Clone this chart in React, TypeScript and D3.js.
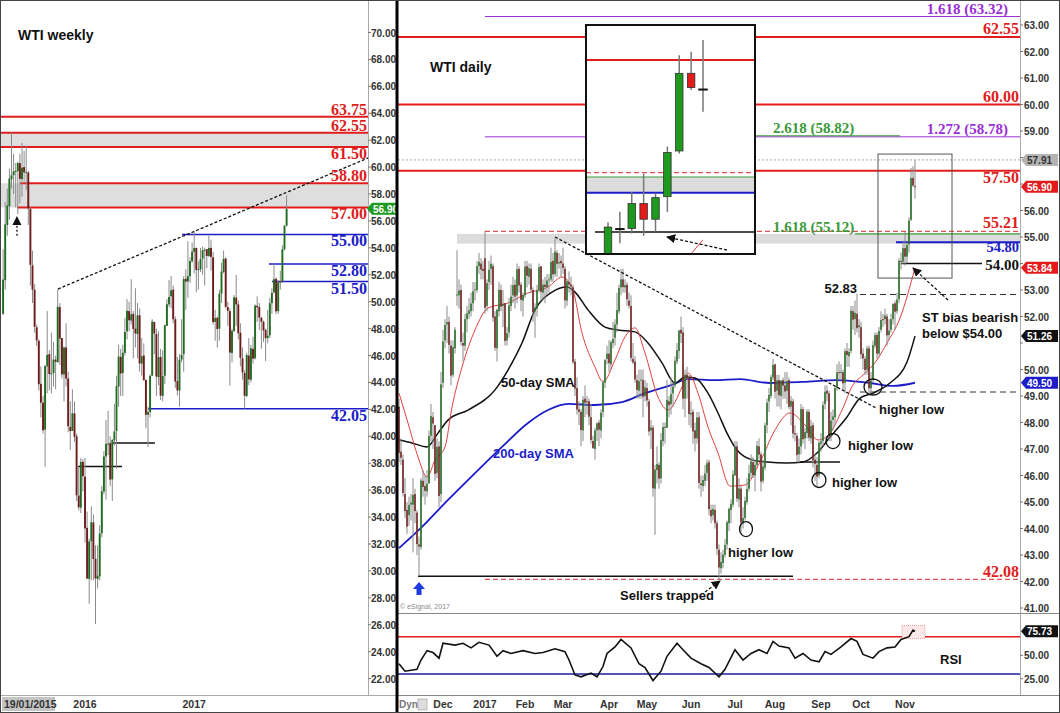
import React from 'react';
import * as d3 from 'd3';

type Bar = [number, number, number, number]; // open, high, low, close

// ---------------- WEEKLY (from week of 06/04/2015) ----------------
const w2015: Bar[] = [
  [49.1, 53.9, 49.0, 51.64], [51.6, 57.4, 50.9, 55.74], [55.7, 58.4, 54.9, 57.15], [57.1, 59.9, 56.1, 59.15],
  [59.1, 62.58, 58.4, 59.39], [59.4, 61.0, 58.0, 59.69], [59.7, 60.3, 57.0, 59.72], [59.7, 60.4, 56.5, 60.3],
  [60.3, 61.0, 57.3, 59.13], [59.1, 61.8, 57.8, 59.96], [60.0, 61.2, 58.9, 59.61], [59.6, 61.6, 58.3, 59.63],
  [59.6, 59.7, 55.7, 56.93], [56.9, 57.0, 51.2, 52.74], [52.7, 53.8, 49.9, 50.89], [50.9, 51.3, 47.7, 48.14],
  [48.1, 48.3, 46.7, 47.12], [47.1, 47.2, 43.4, 43.87], [43.9, 45.2, 41.4, 42.5], [42.5, 43.0, 40.2, 40.45],
  [40.5, 45.3, 37.75, 45.22], [45.2, 49.3, 43.2, 46.05], [46.1, 46.4, 43.4, 44.63], [44.6, 47.7, 43.2, 44.68],
  [44.7, 47.0, 43.7, 45.7], [45.7, 46.0, 43.5, 45.54], [45.5, 50.9, 45.5, 49.63], [49.6, 49.9, 45.3, 47.26],
  [47.3, 47.3, 44.3, 44.6], [44.6, 46.7, 42.6, 46.59], [46.6, 48.4, 43.7, 44.29], [44.3, 44.8, 40.3, 40.74],
  [40.7, 42.6, 38.99, 40.39], [40.4, 43.5, 40.4, 41.71], [41.7, 42.6, 39.6, 39.97], [40.0, 40.2, 35.2, 35.62],
  [35.6, 37.7, 34.5, 34.73], [34.7, 38.4, 34.3, 38.1], [38.1, 38.3, 35.9, 37.04],
];
const w2016: Bar[] = [
  [37.0, 38.4, 32.1, 33.16], [33.2, 34.4, 29.9, 29.42], [29.4, 32.4, 27.56, 32.19], [32.2, 34.8, 29.3, 33.62],
  [33.6, 34.2, 29.3, 30.89], [30.9, 31.9, 26.05, 29.44], [29.4, 31.9, 28.7, 29.64], [29.6, 33.4, 29.3, 32.78],
  [32.8, 36.3, 32.5, 35.92], [35.9, 38.9, 35.7, 38.5], [38.5, 41.2, 35.3, 39.44], [39.4, 41.9, 38.6, 39.46],
  [39.5, 40.0, 36.3, 36.79], [36.8, 39.8, 35.2, 39.72], [39.7, 42.4, 39.3, 40.36], [40.4, 44.5, 37.6, 43.73],
  [43.7, 46.8, 42.2, 45.92], [45.9, 46.5, 43.0, 44.66], [44.7, 46.8, 43.0, 46.21], [46.2, 48.8, 46.0, 47.75],
  [47.8, 50.2, 47.2, 49.33], [49.3, 50.0, 47.8, 48.62], [48.6, 51.67, 48.3, 49.07], [49.1, 49.3, 45.8, 47.98],
  [48.0, 51.0, 46.6, 47.64], [47.6, 49.9, 45.8, 48.99], [49.0, 49.5, 44.8, 45.41], [45.4, 47.3, 44.5, 45.95],
  [46.0, 46.9, 44.1, 44.19], [44.2, 44.2, 40.6, 41.6], [41.6, 42.2, 39.19, 41.8], [41.8, 44.6, 41.4, 44.49],
  [44.5, 48.7, 44.5, 48.52], [48.5, 48.5, 46.1, 47.64], [47.6, 48.0, 43.0, 44.44], [44.4, 47.8, 43.8, 45.88],
  [45.9, 46.5, 42.7, 43.03], [43.0, 46.4, 42.6, 44.48], [44.5, 48.3, 43.9, 48.24], [48.2, 50.2, 48.2, 49.81],
  [49.8, 51.6, 49.6, 50.35], [50.4, 51.9, 49.5, 50.85], [50.9, 51.2, 48.4, 48.7], [48.7, 48.9, 43.6, 44.07],
  [44.1, 45.9, 43.03, 43.41], [43.4, 46.1, 42.2, 45.69], [45.7, 48.7, 45.5, 46.06], [46.1, 51.9, 44.8, 51.68],
  [51.7, 52.4, 49.4, 51.5], [51.5, 54.5, 50.3, 51.9], [51.9, 53.3, 51.4, 53.02], [53.0, 54.4, 52.9, 53.72],
];
const w2017: Bar[] = [
  [53.7, 55.24, 52.1, 53.99], [54.0, 54.0, 50.7, 52.37], [52.4, 53.0, 50.9, 52.42], [52.4, 54.0, 52.2, 53.17],
  [53.2, 54.1, 52.0, 53.83], [53.8, 54.0, 51.2, 53.86], [53.9, 53.9, 52.5, 53.4], [53.4, 54.9, 53.3, 53.99],
  [54.0, 54.6, 52.3, 53.33], [53.3, 53.7, 48.3, 48.49], [48.5, 49.4, 47.1, 48.78], [48.8, 48.9, 46.6, 47.97],
  [48.0, 50.9, 47.1, 50.6], [50.6, 52.9, 49.9, 52.24], [52.2, 53.8, 52.1, 53.18], [53.2, 53.3, 49.5, 49.62],
  [49.6, 50.0, 48.2, 49.33], [49.3, 49.5, 43.76, 46.22], [46.2, 48.0, 45.5, 47.84], [47.8, 50.5, 47.8, 50.33],
  [50.3, 52.0, 48.2, 49.8], [49.8, 50.1, 47.2, 47.66], [47.7, 48.4, 45.2, 45.83], [45.8, 46.6, 44.2, 44.74],
  [44.7, 44.9, 42.05, 43.01], [43.0, 46.2, 42.9, 46.04], [46.0, 47.3, 43.8, 44.23], [44.2, 46.8, 44.0, 46.54],
  [46.5, 47.4, 45.4, 45.77], [45.8, 49.8, 45.7, 49.71], [49.7, 50.4, 48.5, 49.58], [49.6, 49.9, 47.9, 48.82],
  [48.8, 48.9, 46.5, 48.51], [48.5, 48.6, 47.0, 47.87], [47.9, 48.0, 45.6, 47.29], [47.3, 49.4, 46.9, 47.48],
  [47.5, 50.3, 47.3, 49.89], [49.9, 51.0, 49.1, 50.66], [50.7, 52.86, 50.6, 51.67], [51.7, 51.8, 49.1, 49.29],
  [49.3, 51.6, 49.1, 51.45], [51.5, 52.3, 50.9, 51.47], [51.5, 54.2, 51.4, 53.9], [53.9, 55.7, 53.8, 55.64],
  [55.65, 57.91, 55.6, 56.9],
];
const weeklyYearLabels = ['19/01/2015', '2016', '2017'];
const weeklyTicks = d3.range(22, 71, 2);
const weeklyRedLevels = [63.75, 62.55, 61.5, 58.8, 57.0];
const weeklyBlueLevels = [55.0, 52.8, 51.5, 42.05];
const weeklyZones: [number, number][] = [[62.55, 61.5], [58.8, 57.0]];

// ---------------- DAILY (31/10/2016 - 08/11/2017) ----------------
const dOct16: Bar[] = [[48.6, 48.9, 46.5, 46.86]];
const dNov16: Bar[] = [
  [46.9, 47.4, 46.4, 46.67], [46.6, 46.8, 45.2, 45.34], [45.3, 45.9, 44.4, 44.66], [44.7, 45.0, 43.8, 44.07],
  [44.5, 45.2, 44.1, 44.89], [44.9, 45.3, 44.3, 44.98], [44.9, 45.9, 43.1, 45.27], [45.3, 45.5, 44.2, 44.66],
  [44.6, 44.7, 43.0, 43.41], [43.4, 43.7, 42.2, 43.32], [43.3, 45.9, 43.2, 45.81], [45.8, 46.2, 45.2, 45.57],
  [45.6, 46.0, 44.9, 45.42], [45.4, 46.2, 45.2, 45.69], [45.7, 47.7, 45.7, 47.49], [47.5, 48.7, 47.3, 48.24],
  [48.2, 48.4, 47.0, 47.96], [47.9, 47.9, 45.8, 46.06], [46.1, 47.4, 45.9, 47.08], [47.1, 47.3, 44.8, 45.23],
  [45.3, 49.9, 45.0, 49.44],
];
const dDec16: Bar[] = [
  [49.5, 51.5, 49.3, 51.06], [51.1, 51.9, 50.8, 51.68], [51.7, 52.4, 51.0, 51.79], [51.8, 52.0, 50.6, 50.93],
  [50.9, 51.1, 49.4, 49.77], [49.8, 51.1, 49.7, 50.84], [50.8, 51.6, 50.6, 51.5], [52.8, 54.5, 52.4, 52.83],
  [52.8, 53.4, 52.3, 52.98], [53.0, 53.2, 50.9, 51.04], [51.0, 51.4, 50.3, 50.9], [50.9, 52.1, 50.7, 51.9],
  [51.9, 52.4, 51.4, 52.12], [52.1, 52.7, 51.9, 52.23], [52.2, 52.9, 52.0, 52.49], [52.5, 53.3, 52.2, 52.95],
  [53.0, 53.3, 52.6, 53.02], [53.0, 54.1, 52.9, 53.9], [53.9, 54.4, 53.6, 54.06], [54.0, 54.2, 53.4, 53.77],
  [53.8, 54.1, 53.4, 53.72],
];
const dJan17: Bar[] = [
  [54.2, 55.24, 52.1, 52.33], [52.4, 53.4, 52.2, 53.26], [53.3, 54.1, 53.0, 53.76], [53.8, 54.3, 53.2, 53.99],
  [53.9, 54.0, 51.8, 51.96], [52.0, 52.2, 50.7, 50.82], [50.8, 52.3, 50.3, 52.25], [52.2, 53.3, 52.0, 53.01],
  [53.0, 53.2, 52.2, 52.37], [52.4, 53.0, 51.6, 52.48], [52.5, 52.5, 50.9, 51.08], [51.1, 51.6, 50.9, 51.37],
  [51.4, 52.7, 51.2, 52.42], [52.4, 53.2, 52.2, 52.75], [52.8, 53.5, 52.5, 53.18], [53.2, 53.4, 52.3, 52.75],
  [52.8, 54.0, 52.5, 53.78], [53.8, 53.9, 52.9, 53.17], [53.2, 53.3, 52.2, 52.63], [52.6, 52.9, 52.0, 52.81],
];
const dFeb17: Bar[] = [
  [52.8, 54.1, 52.7, 53.88], [53.9, 54.1, 53.1, 53.54], [53.5, 54.0, 53.2, 53.83], [53.8, 54.0, 52.9, 53.01],
  [53.0, 53.1, 51.8, 52.17], [52.2, 52.5, 51.2, 52.34], [52.3, 53.2, 52.0, 53.0], [53.0, 54.0, 52.9, 53.86],
  [53.9, 53.9, 52.6, 52.93], [52.9, 53.4, 52.6, 53.2], [53.2, 53.5, 52.5, 53.11], [53.1, 53.6, 52.8, 53.36],
  [53.4, 53.6, 52.9, 53.4], [53.4, 54.6, 53.3, 54.06], [54.1, 54.4, 53.3, 53.59], [53.6, 54.94, 53.5, 54.45],
  [54.4, 54.5, 53.5, 53.99], [54.0, 54.4, 53.8, 54.05], [54.1, 54.3, 53.5, 54.01],
];
const dMar17: Bar[] = [
  [54.0, 54.6, 53.6, 53.83], [53.8, 53.9, 52.3, 52.61], [52.6, 53.4, 52.4, 53.33], [53.3, 53.7, 52.9, 53.2],
  [53.2, 53.5, 52.8, 53.14], [53.1, 53.2, 50.2, 50.28], [50.3, 50.4, 49.0, 49.28], [49.3, 49.7, 48.3, 48.49],
  [48.5, 48.8, 47.9, 48.4], [48.4, 48.5, 47.1, 47.72], [47.7, 49.0, 47.3, 48.86], [48.9, 49.4, 48.2, 48.75],
  [48.8, 49.0, 48.3, 48.78], [48.8, 48.9, 47.9, 48.22], [48.2, 48.7, 47.2, 47.34], [47.3, 47.5, 47.0, 47.04],
  [47.0, 47.8, 46.6, 47.7], [47.7, 48.0, 47.3, 47.97], [48.0, 48.1, 47.1, 47.73], [47.7, 48.5, 47.4, 48.37],
  [48.4, 49.6, 48.2, 49.51], [49.5, 50.4, 49.3, 50.35], [50.4, 50.9, 50.2, 50.6],
];
const dApr17: Bar[] = [
  [50.6, 51.1, 49.9, 50.24], [50.2, 51.1, 50.0, 51.03], [51.0, 51.8, 50.8, 51.15], [51.2, 51.9, 50.9, 51.7],
  [51.7, 52.9, 51.4, 52.24], [52.2, 53.2, 52.1, 53.08], [53.1, 53.8, 52.8, 53.4], [53.4, 53.8, 52.9, 53.11],
  [53.1, 53.4, 52.9, 53.18], [53.2, 53.3, 52.4, 52.65], [52.6, 52.9, 52.3, 52.41], [52.4, 52.8, 50.3, 50.44],
  [50.4, 51.0, 50.2, 50.27], [50.3, 50.5, 49.5, 49.62], [49.6, 49.8, 48.9, 49.23], [49.2, 50.0, 48.9, 49.56],
  [49.6, 50.0, 48.9, 49.62], [49.6, 50.0, 48.2, 48.97], [49.0, 49.6, 48.8, 49.33],
];
const dMay17: Bar[] = [
  [49.3, 49.5, 48.6, 48.84], [48.8, 48.9, 47.5, 47.66], [47.7, 48.1, 47.0, 47.82], [47.8, 47.9, 45.2, 45.52],
  [45.5, 46.4, 43.76, 46.22], [46.2, 47.1, 45.7, 46.43], [46.4, 46.5, 45.5, 45.88], [45.9, 47.6, 45.7, 47.33],
  [47.3, 48.0, 47.1, 47.83], [47.8, 48.0, 47.2, 47.84], [47.8, 49.6, 47.8, 48.85], [48.8, 49.0, 48.2, 48.66],
  [48.7, 49.7, 48.3, 49.07], [49.1, 49.5, 48.6, 49.35], [49.4, 50.5, 49.3, 50.33], [50.3, 51.0, 50.2, 50.73],
  [50.7, 51.5, 50.4, 51.47], [51.5, 52.0, 51.0, 51.36], [51.4, 51.6, 48.5, 48.9], [48.9, 50.0, 48.2, 49.8],
  [49.8, 50.1, 48.9, 49.66], [49.7, 49.8, 47.9, 48.32],
];
const dJun17: Bar[] = [
  [48.3, 48.8, 47.8, 48.36], [48.4, 48.5, 47.2, 47.66], [47.7, 48.0, 46.9, 47.4], [47.4, 48.4, 47.2, 48.19],
  [48.2, 48.4, 45.5, 45.72], [45.7, 46.0, 45.2, 45.64], [45.6, 46.0, 45.4, 45.83], [45.8, 46.4, 45.6, 46.08],
  [46.1, 46.6, 45.8, 46.46], [46.5, 46.6, 44.5, 44.73], [44.7, 44.9, 44.2, 44.46], [44.5, 44.9, 44.3, 44.74],
  [44.7, 44.9, 44.0, 44.2], [44.2, 44.3, 43.0, 43.23], [43.2, 43.4, 42.05, 42.53], [42.5, 43.1, 42.3, 42.74],
  [42.7, 43.2, 42.5, 43.01], [43.0, 43.6, 42.9, 43.38], [43.4, 44.3, 43.2, 44.24], [44.2, 44.8, 43.9, 44.74],
  [44.7, 45.1, 44.2, 44.93], [44.9, 46.2, 44.8, 46.04],
];
const dJul17: Bar[] = [
  [46.0, 47.3, 46.0, 47.07], [47.1, 47.3, 45.0, 45.13], [45.1, 45.9, 44.8, 45.52], [45.5, 45.6, 43.8, 44.23],
  [44.2, 44.8, 44.0, 44.4], [44.4, 45.2, 44.3, 45.04], [45.0, 45.9, 44.9, 45.49], [45.5, 46.4, 45.4, 46.08],
  [46.1, 46.8, 45.9, 46.54], [46.5, 46.7, 45.9, 46.02], [46.0, 46.6, 45.4, 46.4], [46.4, 47.3, 46.3, 47.12],
  [47.1, 47.4, 46.6, 46.79], [46.8, 46.9, 45.4, 45.77], [45.8, 46.6, 45.7, 46.34], [46.3, 48.0, 46.2, 47.89],
  [47.9, 48.9, 47.6, 48.75], [48.8, 49.3, 48.4, 49.04], [49.0, 49.8, 48.9, 49.71], [49.7, 50.4, 49.6, 50.17],
];
const dAug17: Bar[] = [
  [50.2, 50.2, 48.9, 49.16], [49.2, 49.8, 48.6, 49.59], [49.6, 49.8, 48.6, 49.03], [49.0, 49.6, 48.5, 49.58],
  [49.6, 49.7, 48.9, 49.39], [49.4, 49.9, 48.9, 49.17], [49.2, 49.9, 48.7, 49.56], [49.6, 49.7, 48.5, 48.59],
  [48.6, 49.0, 47.9, 48.82], [48.8, 48.9, 47.4, 47.59], [47.6, 47.9, 47.3, 47.55], [47.5, 47.6, 46.5, 46.78],
  [46.8, 47.4, 46.5, 47.09], [47.1, 48.7, 46.8, 48.51], [48.5, 48.6, 47.2, 47.37], [47.4, 47.8, 47.0, 47.64],
  [47.6, 48.5, 47.4, 48.41], [48.4, 48.5, 47.3, 47.43], [47.4, 48.1, 47.2, 47.87], [47.9, 48.0, 46.3, 46.57],
  [46.6, 46.8, 45.8, 46.44], [46.4, 46.7, 45.6, 45.96], [46.0, 47.3, 45.9, 47.23],
];
const dSep17: Bar[] = [
  [47.2, 47.6, 46.9, 47.29], [47.3, 48.8, 47.1, 48.66], [48.7, 49.4, 48.5, 49.16], [49.2, 49.4, 48.8, 49.09],
  [49.1, 49.2, 47.3, 47.48], [47.5, 48.4, 47.3, 48.07], [48.1, 48.5, 47.7, 48.23], [48.2, 49.4, 47.9, 49.3],
  [49.3, 50.2, 49.2, 49.89], [49.9, 50.3, 49.6, 49.89], [49.9, 50.2, 49.6, 49.91], [49.9, 50.0, 49.2, 49.48],
  [49.5, 50.8, 49.1, 50.69], [50.7, 51.0, 50.1, 50.55], [50.5, 50.8, 50.1, 50.66], [50.7, 52.4, 50.6, 52.22],
  [52.2, 52.4, 51.5, 51.88], [51.9, 52.6, 51.3, 52.14], [52.1, 52.86, 51.4, 51.56], [51.6, 51.9, 51.2, 51.67],
];
const dOct17: Bar[] = [
  [51.6, 51.8, 50.4, 50.58], [50.6, 50.8, 50.0, 50.42], [50.4, 50.5, 49.8, 49.98], [50.0, 50.9, 49.8, 50.79],
  [50.8, 50.9, 49.1, 49.29], [49.3, 49.9, 49.1, 49.58], [49.6, 51.1, 49.5, 50.92], [50.9, 51.4, 50.8, 51.3],
  [51.3, 51.4, 50.4, 50.6], [50.6, 51.6, 50.5, 51.45], [51.5, 52.2, 51.4, 51.87], [51.9, 52.1, 51.6, 51.88],
  [51.9, 52.3, 51.7, 52.04], [52.0, 52.1, 50.9, 51.29], [51.3, 51.9, 51.1, 51.47], [51.5, 52.1, 51.4, 51.9],
  [51.9, 52.5, 51.7, 52.47], [52.5, 52.6, 51.5, 52.18], [52.2, 52.9, 52.1, 52.64], [52.65, 54.2, 52.5, 54.1],
  [54.1, 54.41, 53.77, 54.06], [54.07, 54.82, 53.97, 54.58],
];
const dNov17: Bar[] = [
  [54.58, 55.19, 53.92, 54.26], [54.26, 54.79, 54.01, 54.7], [54.72, 55.74, 54.41, 55.62],
  [55.65, 57.6, 55.6, 57.23], [57.23, 57.67, 56.89, 56.94], [56.92, 57.91, 56.45, 56.9],
];
const dailyMonths: Bar[][] = [dOct16, dNov16, dDec16, dJan17, dFeb17, dMar17, dApr17, dMay17, dJun17, dJul17, dAug17, dSep17, dOct17, dNov17];
const dailyMonthLabels = ['', '', 'Dec', '2017', 'Feb', 'Mar', 'Apr', 'May', 'Jun', 'Jul', 'Aug', 'Sep', 'Oct', 'Nov'];
const dailyTicks = d3.range(41, 64, 1);

// indicator readings [bar index, value]
const sma50: [number, number][] = [[0, 47.34], [6.5, 47.23], [14, 47.08], [19.5, 47.6], [24.5, 48.09], [34.5, 48.47], [48, 49.23], [54.5, 49.98], [61.5, 51.0], [68, 52.25], [76.5, 52.92], [84, 53.11], [88, 52.92], [94.5, 52.25], [103, 51.6], [109.5, 51.49], [118, 51.42], [124.5, 51.0], [131.5, 50.25], [138, 49.49], [143, 49.72], [148, 49.68], [154.5, 49.11], [159.5, 48.36], [164, 47.6], [169, 46.96], [177, 46.58], [184, 46.51], [194, 46.47], [202, 46.51], [209, 46.85], [215.5, 47.45], [224, 48.21], [230.5, 48.92], [237, 49.11], [245.5, 49.49], [254, 50.28], [258, 51.26]];
const sma200: [number, number][] = [[0, 43.26], [11.5, 44.06], [24.5, 45.08], [38, 46.09], [51.5, 47.08], [64.5, 47.98], [74.5, 48.47], [84.5, 48.7], [98, 48.66], [111.5, 48.77], [123, 49.11], [136.5, 49.42], [144.5, 49.64], [158, 49.6], [170.5, 49.64], [185.5, 49.49], [202, 49.53], [219, 49.6], [235.5, 49.49], [247, 49.38], [258, 49.5]];
const ema: [number, number][] = [[0, 49.11], [4.5, 47.98], [9.5, 46.7], [14, 45.94], [18, 46.58], [23, 47.08], [26.5, 48.58], [31.5, 50.09], [38, 51.49], [44.5, 52.32], [54.5, 52.51], [64.5, 52.89], [74.5, 53.11], [81.5, 53.49], [86.5, 53.11], [91.5, 51.38], [98, 50.09], [102, 49.53], [108, 50.36], [113, 51.23], [118, 51.57], [123, 50.62], [129.5, 48.96], [134.5, 48.47], [141.5, 49.34], [144.5, 49.87], [149.5, 49.11], [154.5, 47.83], [159.5, 46.85], [165.5, 45.6], [173, 45.64], [180.5, 46.51], [188, 47.72], [195.5, 48.36], [203, 47.91], [209.5, 47.34], [215.5, 47.6], [221.5, 48.47], [227, 49.42], [232, 49.79], [239, 50.36], [244, 51.0], [250.5, 51.94], [258, 53.84]];
const rsi: [number, number][] = [[0, 41], [3, 33], [9, 35], [11, 45], [14, 55], [17, 53], [20, 47], [22, 63], [28, 61], [32, 63], [36, 58], [40, 64], [45, 61], [49, 49], [52, 55], [56, 52], [62, 55], [68, 52], [72, 53], [78, 57], [83, 54], [85, 45], [88, 29], [91, 27], [96, 31], [99, 27], [102, 38], [104, 52], [108, 59], [111, 67], [116, 58], [120, 41], [123, 37], [127, 23], [131, 33], [134, 49], [139, 63], [142, 56], [146, 47], [151, 41], [155, 37], [160, 27], [163, 35], [168, 56], [172, 45], [176, 52], [180, 56], [184, 52], [187, 65], [190, 60], [195, 58], [198, 47], [202, 52], [206, 45], [210, 43], [213, 54], [216, 51], [221, 59], [226, 68], [229, 65], [232, 51], [237, 47], [240, 54], [244, 58], [248, 59], [251, 67], [255, 70], [257, 77], [258, 75.73]];

// price tags on the right axis
const dailyTags: [number, string, string][] = [[57.91, '#b4b4b4', '#333'], [56.9, '#e31b1b', '#fff'], [53.84, '#e31b1b', '#fff'], [51.26, '#111', '#fff'], [49.5, '#1c1cc8', '#fff']];

const SANS = 'Liberation Sans, Arial, sans-serif';
const SERIF = 'Liberation Serif, Times New Roman, serif';
const RED = '#e11c1c';
const BLUE = '#1c1cc8';
const PURPLE = '#9a2fd6';
const GREEN = '#3a9a3a';

function Candles({ data, x, y, start, bw, upC, dnC, wick, ww, stroke, doji }: any) {
  return (
    <g>
      {data.map((d: Bar, i: number) => {
        const [o, h, l, c] = d;
        const cx = x(start + i);
        const top = y(Math.max(o, c));
        const bot = y(Math.min(o, c));
        const isDoji = doji && Math.abs(c - o) < 0.05;
        return (
          <g key={i}>
            <line x1={cx} x2={cx} y1={y(h)} y2={y(l)} stroke={wick} strokeWidth={ww} />
            {isDoji ? (
              <line x1={cx - bw / 2 - 1} x2={cx + bw / 2 + 1} y1={y(c)} y2={y(c)} stroke="#111" strokeWidth={2} />
            ) : (
              <rect x={cx - bw / 2} y={top} width={bw} height={Math.max(1, bot - top)} fill={c >= o ? upC : dnC} stroke={stroke} strokeWidth={stroke === 'none' ? 0 : 0.8} />
            )}
          </g>
        );
      })}
    </g>
  );
}

function Tag({ x0, x1, yc, fill, color, text }: any) {
  const pts = [[x0, yc], [x0 + 5, yc - 6], [x1, yc - 6], [x1, yc + 6], [x0 + 5, yc + 6]];
  return (
    <g>
      <polygon points={pts.map((p) => p.join(',')).join(' ')} fill={fill} />
      <text x={x0 + 6} y={yc + 4} fontSize={10} fontWeight="bold" fontFamily={SANS} fill={color}>{text}</text>
    </g>
  );
}

export default function App() {
  const xW = d3.scaleLinear().domain([0, 135]).range([3.1, 286.6]);
  const yW = d3.scaleLinear().domain([70, 22]).range([32.5, 678.6]);
  const xD = d3.scaleLinear().domain([0, 258]).range([399, 915]);
  const yD = d3.scaleLinear().domain([63, 41]).range([25, 608]);
  const yR = d3.scaleLinear().domain([70, 30]).range([636.7, 674]);
  const xI = d3.scaleLinear().domain([250, 258]).range([608, 703]);
  const yI = d3.scaleLinear().domain([54.8, 54.0]).range([192.7, 232]);

  const weekly = [...w2015, ...w2016, ...w2017];
  const daily = dailyMonths.flat();
  const monthStarts: number[] = [];
  let acc = 0;
  dailyMonths.forEach((m) => { monthStarts.push(acc); acc += m.length; });
  const yearStartsW = [0, w2015.length, w2015.length + w2016.length];

  const lineD = (pts: [number, number][], xs: any, ys: any) =>
    d3.line<[number, number]>().x((p) => xs(p[0])).y((p) => ys(p[1])).curve(d3.curveMonotoneX)(pts) || '';
  const rsiPath = d3.line<[number, number]>().x((p) => xD(p[0])).y((p) => yR(p[1]))(rsi) || '';

  const fmt = d3.format('.2f');
  const lastIdx = daily.length - 1;
  const insetStart = lastIdx - 8;
  const visibleDailyTicks = dailyTicks.filter((t) => dailyTags.every((tg) => Math.abs(yD(t) - yD(tg[0])) > 10));

  const hLine = (p: number, x1: number, x2: number, ys: any, stroke: string, sw = 1.5, dash?: string) => (
    <line x1={x1} x2={x2} y1={ys(p)} y2={ys(p)} stroke={stroke} strokeWidth={sw} strokeDasharray={dash} />
  );

  return (
    <div style={{ position: 'absolute', left: 0, top: 0 }}>
      <svg width={1060} height={713} style={{ display: 'block', background: '#fff' }}>
        <defs>
          <clipPath id="cw"><rect x={0} y={0} width={368} height={695} /></clipPath>
          <clipPath id="cd"><rect x={398} y={0} width={622} height={613} /></clipPath>
          <clipPath id="cr"><rect x={398} y={614} width={622} height={81} /></clipPath>
          <clipPath id="ci"><rect x={587} y={26} width={167} height={227} /></clipPath>
          <marker id="ah" viewBox="0 0 10 10" refX="9" refY="5" markerWidth="7" markerHeight="7" orient="auto">
            <path d="M0,0 L10,5 L0,10 z" fill="#111" />
          </marker>
        </defs>
        <rect x={0} y={0} width={1060} height={713} fill="#fff" />

        {/* ================= WEEKLY PANEL ================= */}
        <g clipPath="url(#cw)">
          {weeklyZones.map((z, i) => (
            <rect key={i} x={0} width={368} y={yW(z[0])} height={yW(z[1]) - yW(z[0])} fill="#dedede" />
          ))}
          {weeklyRedLevels.map((p, i) => <g key={'wl' + i}>{hLine(p, i >= 3 ? (i === 3 ? 20 : 17) : 0, 368, yW, RED, 2)}</g>)}
          {hLine(55.0, xW(85.2), 368, yW, BLUE, 1.5)}
          {hLine(52.8, xW(126.6), 368, yW, BLUE, 1.5)}
          {hLine(51.5, xW(128), 368, yW, BLUE, 1.5)}
          {hLine(42.05, xW(69), 368, yW, BLUE, 1.5)}
          {hLine(37.75, xW(35.7), xW(56.6), yW, '#111', 1.5)}
          {hLine(39.5, xW(52.3), xW(72.3), yW, '#111', 1.5)}
          <line x1={xW(26.1)} y1={yW(50.94)} x2={xW(173.8)} y2={yW(60.68)} stroke="#111" strokeWidth={1.3} strokeDasharray="3,2" />
          <Candles data={weekly} x={xW} y={yW} start={0} bw={1.9} upC="#226b22" dnC="#6e1b1b" wick="#8a8a8a" ww={1} stroke="none" />
          <line x1={xW(6.6)} x2={xW(6.6)} y1={yW(54.9)} y2={yW(56.3)} stroke="#111" strokeWidth={1.3} strokeDasharray="2,2" markerEnd="url(#ah)" />
        </g>
        <text x={18} y={40} fontSize={14} fontWeight="bold" fontFamily={SANS} fill="#111">WTI weekly</text>
        {[[63.75, -2], [62.55, -2], [61.5, 12], [58.8, -2], [57.0, 12]].map(([p, dy], i) => (
          <text key={'wr' + i} x={367} y={yW(p) + dy} textAnchor="end" fontSize={16} fontWeight="bold" fontFamily={SERIF} fill={RED}>{fmt(p)}</text>
        ))}
        {weeklyBlueLevels.map((p, i) => (
          <text key={'wb' + i} x={367} y={yW(p) + 12} textAnchor="end" fontSize={16} fontWeight="bold" fontFamily={SERIF} fill={BLUE}>{fmt(p)}</text>
        ))}
        <line x1={368.5} x2={368.5} y1={0} y2={695} stroke="#aaa" />
        <line x1={0} x2={397} y1={695.5} y2={695.5} stroke="#aaa" />
        {weeklyTicks.map((t) => (
          <g key={'wt' + t}>
            <line x1={368} x2={371} y1={yW(t)} y2={yW(t)} stroke="#777" />
            <text x={371} y={yW(t) + 4} fontSize={10} fontWeight="bold" fontFamily={SANS} fill="#333">{fmt(t)}</text>
          </g>
        ))}
        <Tag x0={367} x1={398} yc={yW(56.9)} fill="#1f9a1f" color="#fff" text="56.90" />
        <rect x={2} y={697} width={53} height={14} fill="#c4c4c4" />
        {weeklyYearLabels.map((lab, i) => (
          <text key={'yl' + i} x={i === 0 ? 4 : xW(yearStartsW[i])} y={708} textAnchor={i === 0 ? 'start' : 'middle'} fontSize={10.5} fontWeight="bold" fontFamily={SANS} fill="#333">{lab}</text>
        ))}

        {/* ================= DAILY PANEL ================= */}
        <g clipPath="url(#cd)">
          <rect x={xD(29)} width={1020 - xD(29)} y={yD(55.12)} height={yD(54.75) - yD(55.12)} fill="#dcdcdc" />
          {hLine(63.32, xD(43), 1020, yD, PURPLE, 1)}
          {hLine(62.55, 397, 1020, yD, RED, 2)}
          {hLine(60.0, 397, 1020, yD, RED, 2)}
          {hLine(58.78, xD(43), 1020, yD, PURPLE, 1)}
          {hLine(58.82, 755, 900, yD, GREEN, 1)}
          {hLine(57.91, 398, 1020, yD, '#bdbdbd', 1.2, '2,2')}
          {hLine(57.5, 397, 1020, yD, RED, 2)}
          {hLine(55.21, xD(43), 1020, yD, '#e05050', 1.2, '5,3')}
          {hLine(55.12, xD(228), 1020, yD, GREEN, 1.2)}
          {hLine(54.8, xD(248.5), 1020, yD, BLUE, 2)}
          {hLine(54.0, xD(251), 982, yD, '#111', 1.5)}
          {hLine(52.83, xD(230.5), 1020, yD, '#333', 1, '6,4')}
          {hLine(49.15, xD(230.5), 1020, yD, '#333', 1, '6,4')}
          {hLine(46.51, xD(200.5), xD(220.5), yD, '#111', 1.5)}
          {hLine(42.2, xD(9.5), xD(197), yD, '#111', 1.5)}
          {hLine(42.08, xD(43), 1020, yD, '#e05050', 1.2, '5,3')}
          <path d={lineD(sma200, xD, yD)} fill="none" stroke="#1c1cc8" strokeWidth={1.8} />
          <path d={lineD(sma50, xD, yD)} fill="none" stroke="#111" strokeWidth={1.5} />
          <path d={lineD(ema, xD, yD)} fill="none" stroke="#e04040" strokeWidth={1} />
          <Candles data={daily} x={xD} y={yD} start={0} bw={1.5} upC="#236e23" dnC="#701c1c" wick="#8a8a8a" ww={1} stroke="none" />
          <line x1={xD(78)} y1={yD(55.0)} x2={xD(238.5)} y2={yD(48.55)} stroke="#111" strokeWidth={1.3} strokeDasharray="3,2" />
          <ellipse cx={xD(173.5)} cy={yD(43.98)} rx={6.5} ry={7.5} fill="none" stroke="#111" strokeWidth={1.3} />
          <ellipse cx={xD(210)} cy={yD(45.83)} rx={7} ry={7.5} fill="none" stroke="#111" strokeWidth={1.3} />
          <ellipse cx={xD(217)} cy={yD(47.3)} rx={7} ry={7.5} fill="none" stroke="#111" strokeWidth={1.3} />
          <ellipse cx={xD(237)} cy={yD(49.34)} rx={9} ry={8} fill="none" stroke="#111" strokeWidth={1.3} />
          <rect x={878} y={yD(58.13)} width={74} height={yD(53.45) - yD(58.13)} fill="none" stroke="#555" strokeWidth={1} />
          <line x1={948} y1={300} x2={913} y2={268} stroke="#111" strokeWidth={1.3} strokeDasharray="3,2" markerEnd="url(#ah)" />
          <line x1={705} y1={592} x2={720} y2={581} stroke="#111" strokeWidth={1.3} strokeDasharray="3,2" markerEnd="url(#ah)" />
          <polygon points={`${xD(10)},582 ${xD(10) + 6},589 ${xD(10) + 2.5},589 ${xD(10) + 2.5},595 ${xD(10) - 2.5},595 ${xD(10) - 2.5},589 ${xD(10) - 6},589`} fill="#1c3ce0" />
        </g>

        <text x={430} y={72} fontSize={14} fontWeight="bold" fontFamily={SANS} fill="#111">WTI daily</text>
        <text x={1008} y={yD(63.32) - 3} textAnchor="end" fontSize={15} fontWeight="bold" fontFamily={SERIF} fill={PURPLE}>1.618 (63.32)</text>
        <text x={1019} y={yD(62.55) - 3} textAnchor="end" fontSize={16} fontWeight="bold" fontFamily={SERIF} fill={RED}>62.55</text>
        <text x={1019} y={yD(60.0) - 3} textAnchor="end" fontSize={16} fontWeight="bold" fontFamily={SERIF} fill={RED}>60.00</text>
        <text x={773} y={yD(58.82) - 3} fontSize={15} fontWeight="bold" fontFamily={SERIF} fill={GREEN}>2.618 (58.82)</text>
        <text x={1008} y={yD(58.78) - 3} textAnchor="end" fontSize={15} fontWeight="bold" fontFamily={SERIF} fill={PURPLE}>1.272 (58.78)</text>
        <text x={1019} y={yD(57.5) + 12} textAnchor="end" fontSize={16} fontWeight="bold" fontFamily={SERIF} fill={RED}>57.50</text>
        <text x={1019} y={yD(55.21) - 3} textAnchor="end" fontSize={16} fontWeight="bold" fontFamily={SERIF} fill={RED}>55.21</text>
        <text x={773} y={yD(55.12) - 2} fontSize={15} fontWeight="bold" fontFamily={SERIF} fill={GREEN}>1.618 (55.12)</text>
        <text x={1019} y={yD(54.8) + 10} textAnchor="end" fontSize={14.5} fontWeight="bold" fontFamily={SERIF} fill={BLUE}>54.80</text>
        <text x={1019} y={yD(54.0) + 6.5} textAnchor="end" fontSize={15} fontWeight="bold" fontFamily={SERIF} fill="#111">54.00</text>
        <text x={857} y={yD(52.83) - 2} textAnchor="end" fontSize={13} fontWeight="bold" fontFamily={SANS} fill="#111">52.83</text>
        <text x={1019} y={yD(42.08) - 2} textAnchor="end" fontSize={16} fontWeight="bold" fontFamily={SERIF} fill={RED}>42.08</text>
        <text x={922} y={322} fontSize={13} fontWeight="bold" fontFamily={SANS} fill="#111">ST bias bearish</text>
        <text x={922} y={338} fontSize={13} fontWeight="bold" fontFamily={SANS} fill="#111">below $54.00</text>
        <text x={879} y={414} fontSize={13} fontWeight="bold" fontFamily={SANS} fill="#111">higher low</text>
        <text x={848} y={450} fontSize={13} fontWeight="bold" fontFamily={SANS} fill="#111">higher low</text>
        <text x={832} y={487} fontSize={13} fontWeight="bold" fontFamily={SANS} fill="#111">higher low</text>
        <text x={728} y={557} fontSize={13} fontWeight="bold" fontFamily={SANS} fill="#111">higher low</text>
        <text x={501} y={387} fontSize={13} fontWeight="bold" fontFamily={SANS} fill="#111">50-day SMA</text>
        <text x={493} y={458} fontSize={13} fontWeight="bold" fontFamily={SANS} fill={BLUE}>200-day SMA</text>
        <text x={620} y={600} fontSize={13} fontWeight="bold" fontFamily={SANS} fill="#111">Sellers trapped</text>
        <text x={400} y={609} fontSize={7} fontFamily={SANS} fill="#888">© eSignal, 2017</text>

        {/* ================= INSET ================= */}
        <rect x={586} y={25} width={169} height={229} fill="#fff" />
        <g clipPath="url(#ci)">
          <rect x={586} width={169} y={yI(55.12)} height={yI(54.8) - yI(55.12)} fill="#dcdcdc" />
          {hLine(57.5, 586, 755, yI, RED, 2)}
          {hLine(55.21, 586, 755, yI, '#e05050', 1.2, '5,3')}
          {hLine(55.12, 586, 755, yI, GREEN, 1.2)}
          {hLine(54.8, 586, 755, yI, BLUE, 2)}
          {hLine(54.0, 595, 755, yI, '#111', 1.5)}
          <path d={lineD(ema, xI, yI)} fill="none" stroke="#e04040" strokeWidth={1} />
          <Candles data={daily.slice(insetStart)} x={xI} y={yI} start={insetStart} bw={7.5} upC="#1e9a1e" dnC="#e31b1b" wick="#777" ww={1.5} stroke="#333" doji />
          <line x1={727} y1={250} x2={667} y2={237} stroke="#111" strokeWidth={1.3} strokeDasharray="3,2" markerEnd="url(#ah)" />
        </g>
        <rect x={586} y={25} width={169} height={229} fill="none" stroke="#111" strokeWidth={2} />

        {/* daily axis */}
        <line x1={1020.5} x2={1020.5} y1={0} y2={695} stroke="#aaa" />
        {dailyTicks.map((t) => (
          <line key={'dk' + t} x1={1020} x2={1023} y1={yD(t)} y2={yD(t)} stroke="#777" />
        ))}
        {visibleDailyTicks.map((t) => (
          <text key={'dt' + t} x={1024} y={yD(t) + 4} fontSize={10} fontWeight="bold" fontFamily={SANS} fill="#333">{fmt(t)}</text>
        ))}
        {dailyTags.map(([p, fill, color], i) => (
          <Tag key={'tg' + i} x0={1021} x1={1058} yc={yD(p)} fill={fill} color={color} text={fmt(p)} />
        ))}

        {/* ================= RSI PANEL ================= */}
        <line x1={398} x2={1060} y1={613.5} y2={613.5} stroke="#888" />
        <g clipPath="url(#cr)">
          {hLine(70, 398, 1020, yR, RED, 1.5)}
          {hLine(30, 398, 1020, yR, '#1c1c9a', 1.5)}
          <rect x={xD(251.5)} y={yR(82)} width={23} height={yR(68) - yR(82)} fill="#fde8e8" stroke="#e88" strokeWidth={0.8} strokeDasharray="1,1" />
          <path d={rsiPath} fill="none" stroke="#111" strokeWidth={1.6} />
        </g>
        <text x={940} y={664} fontSize={13} fontWeight="bold" fontFamily={SANS} fill="#111">RSI</text>
        {[50, 25].map((t) => (
          <g key={'rt' + t}>
            <line x1={1020} x2={1023} y1={yR(t)} y2={yR(t)} stroke="#777" />
            <text x={1024} y={yR(t) + 4} fontSize={10} fontWeight="bold" fontFamily={SANS} fill="#333">{fmt(t)}</text>
          </g>
        ))}
        <Tag x0={1021} x1={1058} yc={yR(75.73)} fill="#111" color="#fff" text="75.73" />
        <line x1={398} x2={1060} y1={695.5} y2={695.5} stroke="#888" />
        <text x={399} y={708} fontSize={10} fontWeight="bold" fontFamily={SANS} fill="#777">Dyn</text>
        <rect x={418} y={699} width={9} height={11} fill="#ddd" stroke="#999" strokeWidth={0.6} />
        {dailyMonthLabels.map((lab, i) => lab ? (
          <text key={'ml' + i} x={xD(monthStarts[i])} y={708} textAnchor="middle" fontSize={10.5} fontWeight="bold" fontFamily={SANS} fill="#333">{lab}</text>
        ) : null)}

        <line x1={397} x2={397} y1={0} y2={713} stroke="#000" strokeWidth={3} />
        <rect x={0.5} y={0.5} width={1059} height={712} fill="none" stroke="#444" strokeWidth={1} />
      </svg>
    </div>
  );
}
